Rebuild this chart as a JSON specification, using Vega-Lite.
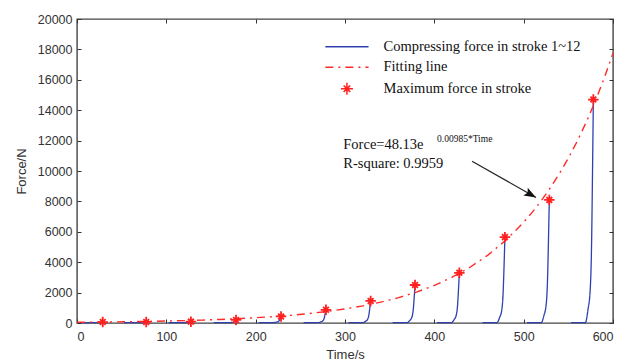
{
  "$schema": "https://vega.github.io/schema/vega-lite/v6.json",
  "width": 536,
  "height": 304,
  "autosize": "none",
  "padding": {"left": 77, "top": 19, "right": 22, "bottom": 40},
  "background": "white",
  "config": {
    "view": {"stroke": "#444", "strokeWidth": 1.4},
    "axis": {
      "grid": false,
      "domain": false,
      "tickColor": "#333",
      "tickWidth": 1,
      "tickSize": -4,
      "labelFont": "Liberation Sans",
      "labelFontSize": 12.5,
      "labelColor": "#333",
      "titleFont": "Liberation Sans",
      "titleFontSize": 13,
      "titleFontWeight": "normal",
      "titleColor": "#333"
    },
    "legend": {
      "title": null,
      "orient": "none",
      "legendX": 262.7,
      "legendY": 20.5,
      "padding": 0,
      "symbolSize": 144,
      "symbolStrokeWidth": 1.5,
      "symbolOpacity": 1,
      "labelFont": "Liberation Serif",
      "labelFontSize": 14.5,
      "labelColor": "#111",
      "labelOffset": 29.3,
      "rowPadding": 5.5,
      "labelLimit": 400
    }
  },
  "datasets": {
    "strokes": [
      {"series": "Compressing force in stroke 1~12", "stroke": 1, "time": 3.8, "force": 20},
      {"series": "Compressing force in stroke 1~12", "stroke": 1, "time": 19.8, "force": 20},
      {"series": "Compressing force in stroke 1~12", "stroke": 1, "time": 22.8, "force": 25},
      {"series": "Compressing force in stroke 1~12", "stroke": 1, "time": 25.3, "force": 30},
      {"series": "Compressing force in stroke 1~12", "stroke": 1, "time": 26.8, "force": 40},
      {"series": "Compressing force in stroke 1~12", "stroke": 1, "time": 27.8, "force": 50},
      {"series": "Compressing force in stroke 1~12", "stroke": 1, "time": 28.8, "force": 60},
      {"series": "Compressing force in stroke 1~12", "stroke": 2, "time": 52.5, "force": 20},
      {"series": "Compressing force in stroke 1~12", "stroke": 2, "time": 68.5, "force": 20},
      {"series": "Compressing force in stroke 1~12", "stroke": 2, "time": 71.5, "force": 25},
      {"series": "Compressing force in stroke 1~12", "stroke": 2, "time": 74, "force": 32},
      {"series": "Compressing force in stroke 1~12", "stroke": 2, "time": 75.5, "force": 42},
      {"series": "Compressing force in stroke 1~12", "stroke": 2, "time": 76.5, "force": 55},
      {"series": "Compressing force in stroke 1~12", "stroke": 2, "time": 77.5, "force": 70},
      {"series": "Compressing force in stroke 1~12", "stroke": 3, "time": 102.5, "force": 20},
      {"series": "Compressing force in stroke 1~12", "stroke": 3, "time": 118.5, "force": 20},
      {"series": "Compressing force in stroke 1~12", "stroke": 3, "time": 121.5, "force": 25},
      {"series": "Compressing force in stroke 1~12", "stroke": 3, "time": 124, "force": 33},
      {"series": "Compressing force in stroke 1~12", "stroke": 3, "time": 125.5, "force": 45},
      {"series": "Compressing force in stroke 1~12", "stroke": 3, "time": 126.5, "force": 65},
      {"series": "Compressing force in stroke 1~12", "stroke": 3, "time": 127.5, "force": 90},
      {"series": "Compressing force in stroke 1~12", "stroke": 4, "time": 153, "force": 20},
      {"series": "Compressing force in stroke 1~12", "stroke": 4, "time": 169, "force": 20},
      {"series": "Compressing force in stroke 1~12", "stroke": 4, "time": 172, "force": 30},
      {"series": "Compressing force in stroke 1~12", "stroke": 4, "time": 174.5, "force": 45},
      {"series": "Compressing force in stroke 1~12", "stroke": 4, "time": 176, "force": 80},
      {"series": "Compressing force in stroke 1~12", "stroke": 4, "time": 177, "force": 140},
      {"series": "Compressing force in stroke 1~12", "stroke": 4, "time": 178, "force": 200},
      {"series": "Compressing force in stroke 1~12", "stroke": 5, "time": 203.4, "force": 20},
      {"series": "Compressing force in stroke 1~12", "stroke": 5, "time": 219.4, "force": 20},
      {"series": "Compressing force in stroke 1~12", "stroke": 5, "time": 222.4, "force": 45},
      {"series": "Compressing force in stroke 1~12", "stroke": 5, "time": 224.9, "force": 80},
      {"series": "Compressing force in stroke 1~12", "stroke": 5, "time": 226.4, "force": 160},
      {"series": "Compressing force in stroke 1~12", "stroke": 5, "time": 227.4, "force": 290},
      {"series": "Compressing force in stroke 1~12", "stroke": 5, "time": 228.4, "force": 430},
      {"series": "Compressing force in stroke 1~12", "stroke": 6, "time": 253.7, "force": 20},
      {"series": "Compressing force in stroke 1~12", "stroke": 6, "time": 269.7, "force": 20},
      {"series": "Compressing force in stroke 1~12", "stroke": 6, "time": 272.7, "force": 70},
      {"series": "Compressing force in stroke 1~12", "stroke": 6, "time": 275.2, "force": 145},
      {"series": "Compressing force in stroke 1~12", "stroke": 6, "time": 276.7, "force": 310},
      {"series": "Compressing force in stroke 1~12", "stroke": 6, "time": 277.7, "force": 580},
      {"series": "Compressing force in stroke 1~12", "stroke": 6, "time": 278.7, "force": 870},
      {"series": "Compressing force in stroke 1~12", "stroke": 7, "time": 303.7, "force": 20},
      {"series": "Compressing force in stroke 1~12", "stroke": 7, "time": 319.7, "force": 20},
      {"series": "Compressing force in stroke 1~12", "stroke": 7, "time": 322.7, "force": 100},
      {"series": "Compressing force in stroke 1~12", "stroke": 7, "time": 325.2, "force": 230},
      {"series": "Compressing force in stroke 1~12", "stroke": 7, "time": 326.7, "force": 520},
      {"series": "Compressing force in stroke 1~12", "stroke": 7, "time": 327.7, "force": 960},
      {"series": "Compressing force in stroke 1~12", "stroke": 7, "time": 328.7, "force": 1450},
      {"series": "Compressing force in stroke 1~12", "stroke": 8, "time": 353.4, "force": 20},
      {"series": "Compressing force in stroke 1~12", "stroke": 8, "time": 369.4, "force": 20},
      {"series": "Compressing force in stroke 1~12", "stroke": 8, "time": 372.4, "force": 160},
      {"series": "Compressing force in stroke 1~12", "stroke": 8, "time": 374.9, "force": 390},
      {"series": "Compressing force in stroke 1~12", "stroke": 8, "time": 376.4, "force": 880},
      {"series": "Compressing force in stroke 1~12", "stroke": 8, "time": 377.4, "force": 1630},
      {"series": "Compressing force in stroke 1~12", "stroke": 8, "time": 378.4, "force": 2500},
      {"series": "Compressing force in stroke 1~12", "stroke": 9, "time": 403, "force": 20},
      {"series": "Compressing force in stroke 1~12", "stroke": 9, "time": 419, "force": 20},
      {"series": "Compressing force in stroke 1~12", "stroke": 9, "time": 422, "force": 210},
      {"series": "Compressing force in stroke 1~12", "stroke": 9, "time": 424.5, "force": 510},
      {"series": "Compressing force in stroke 1~12", "stroke": 9, "time": 426, "force": 1160},
      {"series": "Compressing force in stroke 1~12", "stroke": 9, "time": 427, "force": 2150},
      {"series": "Compressing force in stroke 1~12", "stroke": 9, "time": 428, "force": 3300},
      {"series": "Compressing force in stroke 1~12", "stroke": 10, "time": 454, "force": 20},
      {"series": "Compressing force in stroke 1~12", "stroke": 10, "time": 470, "force": 20},
      {"series": "Compressing force in stroke 1~12", "stroke": 10, "time": 473, "force": 350},
      {"series": "Compressing force in stroke 1~12", "stroke": 10, "time": 475.5, "force": 860},
      {"series": "Compressing force in stroke 1~12", "stroke": 10, "time": 477, "force": 1980},
      {"series": "Compressing force in stroke 1~12", "stroke": 10, "time": 478, "force": 3670},
      {"series": "Compressing force in stroke 1~12", "stroke": 10, "time": 479, "force": 5650},
      {"series": "Compressing force in stroke 1~12", "stroke": 11, "time": 503.7, "force": 20},
      {"series": "Compressing force in stroke 1~12", "stroke": 11, "time": 519.7, "force": 20},
      {"series": "Compressing force in stroke 1~12", "stroke": 11, "time": 522.7, "force": 500},
      {"series": "Compressing force in stroke 1~12", "stroke": 11, "time": 525.2, "force": 1220},
      {"series": "Compressing force in stroke 1~12", "stroke": 11, "time": 526.7, "force": 2840},
      {"series": "Compressing force in stroke 1~12", "stroke": 11, "time": 527.7, "force": 5270},
      {"series": "Compressing force in stroke 1~12", "stroke": 11, "time": 528.7, "force": 8100},
      {"series": "Compressing force in stroke 1~12", "stroke": 12, "time": 553, "force": 20},
      {"series": "Compressing force in stroke 1~12", "stroke": 12, "time": 569, "force": 20},
      {"series": "Compressing force in stroke 1~12", "stroke": 12, "time": 572, "force": 880},
      {"series": "Compressing force in stroke 1~12", "stroke": 12, "time": 574.5, "force": 2200},
      {"series": "Compressing force in stroke 1~12", "stroke": 12, "time": 576, "force": 5150},
      {"series": "Compressing force in stroke 1~12", "stroke": 12, "time": 577, "force": 9560},
      {"series": "Compressing force in stroke 1~12", "stroke": 12, "time": 578, "force": 14700}
    ],
    "fit": [
      {"series": "Fitting line", "time": 0, "force": 48},
      {"series": "Fitting line", "time": 20, "force": 59},
      {"series": "Fitting line", "time": 40, "force": 71},
      {"series": "Fitting line", "time": 60, "force": 87},
      {"series": "Fitting line", "time": 80, "force": 106},
      {"series": "Fitting line", "time": 100, "force": 129},
      {"series": "Fitting line", "time": 120, "force": 157},
      {"series": "Fitting line", "time": 140, "force": 191},
      {"series": "Fitting line", "time": 160, "force": 233},
      {"series": "Fitting line", "time": 180, "force": 283},
      {"series": "Fitting line", "time": 200, "force": 345},
      {"series": "Fitting line", "time": 220, "force": 420},
      {"series": "Fitting line", "time": 240, "force": 512},
      {"series": "Fitting line", "time": 260, "force": 623},
      {"series": "Fitting line", "time": 280, "force": 759},
      {"series": "Fitting line", "time": 300, "force": 924},
      {"series": "Fitting line", "time": 320, "force": 1125},
      {"series": "Fitting line", "time": 340, "force": 1371},
      {"series": "Fitting line", "time": 360, "force": 1669},
      {"series": "Fitting line", "time": 380, "force": 2032},
      {"series": "Fitting line", "time": 400, "force": 2475},
      {"series": "Fitting line", "time": 420, "force": 3014},
      {"series": "Fitting line", "time": 440, "force": 3670},
      {"series": "Fitting line", "time": 460, "force": 4469},
      {"series": "Fitting line", "time": 480, "force": 5442},
      {"series": "Fitting line", "time": 500, "force": 6627},
      {"series": "Fitting line", "time": 510, "force": 7313},
      {"series": "Fitting line", "time": 520, "force": 8070},
      {"series": "Fitting line", "time": 530, "force": 8906},
      {"series": "Fitting line", "time": 540, "force": 9827},
      {"series": "Fitting line", "time": 550, "force": 10845},
      {"series": "Fitting line", "time": 560, "force": 11967},
      {"series": "Fitting line", "time": 570, "force": 13206},
      {"series": "Fitting line", "time": 580, "force": 14573},
      {"series": "Fitting line", "time": 590, "force": 16081},
      {"series": "Fitting line", "time": 600, "force": 17746}
    ],
    "peaks": [
      {"series": "Maximum force in stroke", "time": 28.8, "force": 60},
      {"series": "Maximum force in stroke", "time": 77.5, "force": 70},
      {"series": "Maximum force in stroke", "time": 127.5, "force": 90},
      {"series": "Maximum force in stroke", "time": 178, "force": 200},
      {"series": "Maximum force in stroke", "time": 228.4, "force": 430},
      {"series": "Maximum force in stroke", "time": 278.7, "force": 870},
      {"series": "Maximum force in stroke", "time": 328.7, "force": 1450},
      {"series": "Maximum force in stroke", "time": 378.4, "force": 2500},
      {"series": "Maximum force in stroke", "time": 428, "force": 3300},
      {"series": "Maximum force in stroke", "time": 479, "force": 5650},
      {"series": "Maximum force in stroke", "time": 528.7, "force": 8100},
      {"series": "Maximum force in stroke", "time": 578, "force": 14700}
    ],
    "arrow": [
      {"part": "tail", "time": 442.2, "force": 10640},
      {"part": "tip", "time": 513.8, "force": 8260}
    ],
    "notes": [
      {"text": "Force=48.13e", "time": 298.1, "force": 11690},
      {"text": "R-square: 0.9959", "time": 298.1, "force": 10490}
    ],
    "sup": [
      {"text": "0.00985*Time", "time": 403, "force": 12130}
    ]
  },
  "layer": [
    {
      "data": {"name": "strokes"},
      "mark": {"type": "line", "strokeWidth": 1.3, "interpolate": "monotone"},
      "encoding": {
        "x": {"field": "time", "type": "quantitative", "scale": {"domain": [0, 600], "nice": false},
              "axis": {"orient": "bottom", "values": [0, 100, 200, 300, 400, 500, 600], "title": "Time/s", "labelPadding": 11, "titlePadding": 6}},
        "y": {"field": "force", "type": "quantitative", "scale": {"domain": [0, 20000], "nice": false},
              "axis": {"orient": "left", "values": [0, 2000, 4000, 6000, 8000, 10000, 12000, 14000, 16000, 18000, 20000], "format": "d", "title": "Force/N", "labelPadding": 9, "titlePadding": 9}},
        "detail": {"field": "stroke", "type": "nominal"},
        "color": {
          "field": "series", "type": "nominal",
          "scale": {"domain": ["Compressing force in stroke 1~12", "Fitting line", "Maximum force in stroke"], "range": ["#3040b0", "#ff2a2a", "#ff2020"]}
        },
        "strokeDash": {
          "field": "series", "type": "nominal",
          "scale": {"domain": ["Compressing force in stroke 1~12", "Fitting line", "Maximum force in stroke"], "range": [[1, 0], [8, 5, 2, 5], [1, 0]]}
        }
      }
    },
    {
      "data": {"name": "fit"},
      "mark": {"type": "line", "strokeWidth": 1.4},
      "encoding": {
        "x": {"field": "time", "type": "quantitative", "axis": {"orient": "top", "values": [0, 100, 200, 300, 400, 500, 600], "labels": false, "title": null}},
        "y": {"field": "force", "type": "quantitative", "axis": {"orient": "right", "values": [0, 2000, 4000, 6000, 8000, 10000, 12000, 14000, 16000, 18000, 20000], "labels": false, "title": null}},
        "color": {"field": "series", "type": "nominal"},
        "strokeDash": {"field": "series", "type": "nominal"}
      }
    },
    {
      "data": {"name": "peaks"},
      "mark": {"type": "point", "filled": false, "opacity": 1, "size": 110, "strokeWidth": 1.8},
      "encoding": {
        "x": {"field": "time", "type": "quantitative", "axis": null},
        "y": {"field": "force", "type": "quantitative", "axis": null},
        "color": {"field": "series", "type": "nominal"},
        "shape": {
          "field": "series", "type": "nominal",
          "scale": {"domain": ["Compressing force in stroke 1~12", "Fitting line", "Maximum force in stroke"],
                    "range": ["M-3.6,0L3.6,0", "M-3.6,0L3.6,0", "M0,-1L0,1M-1,0L1,0M-0.55,-0.55L0.55,0.55M-0.55,0.55L0.55,-0.55"]}
        }
      }
    },
    {
      "data": {"name": "arrow"},
      "mark": {"type": "line", "color": "#222", "strokeWidth": 1.2},
      "encoding": {
        "x": {"field": "time", "type": "quantitative", "axis": null},
        "y": {"field": "force", "type": "quantitative", "axis": null}
      }
    },
    {
      "data": {"name": "arrow"},
      "transform": [{"filter": "datum.part === 'tip'"}],
      "mark": {"type": "point", "filled": true, "color": "#111", "opacity": 1, "size": 144, "angle": 29.4, "shape": "M0,0L-2,-0.75L-1.6,0L-2,0.75Z"},
      "encoding": {
        "x": {"field": "time", "type": "quantitative", "axis": null},
        "y": {"field": "force", "type": "quantitative", "axis": null}
      }
    },
    {
      "data": {"name": "notes"},
      "mark": {"type": "text", "align": "left", "baseline": "middle", "font": "Liberation Serif", "fontSize": 14.5, "color": "#111"},
      "encoding": {
        "x": {"field": "time", "type": "quantitative", "axis": null},
        "y": {"field": "force", "type": "quantitative", "axis": null},
        "text": {"field": "text"}
      }
    },
    {
      "data": {"name": "sup"},
      "mark": {"type": "text", "align": "left", "baseline": "middle", "font": "Liberation Serif", "fontSize": 9.5, "color": "#111"},
      "encoding": {
        "x": {"field": "time", "type": "quantitative", "axis": null},
        "y": {"field": "force", "type": "quantitative", "axis": null},
        "text": {"field": "text"}
      }
    }
  ],
  "resolve": {"axis": {"x": "independent", "y": "independent"}}
}
